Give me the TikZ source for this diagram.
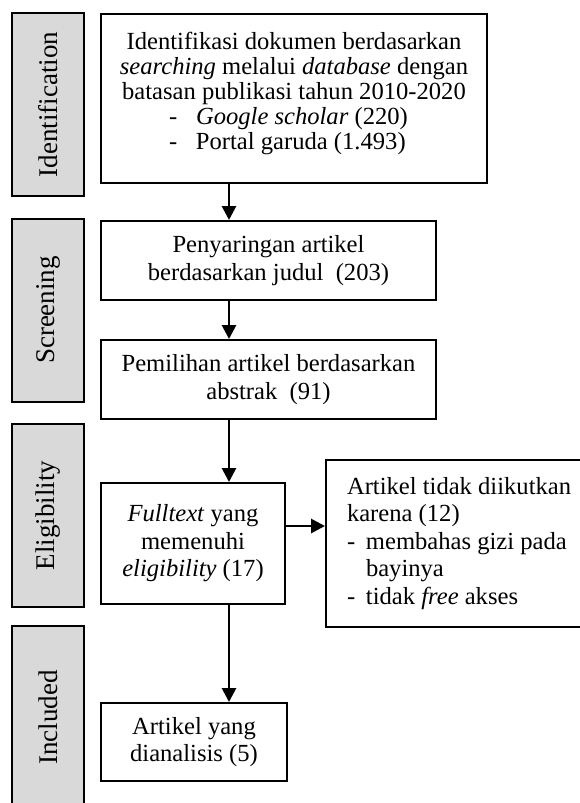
\documentclass[tikz,border=0pt]{standalone}
\usepackage{fontspec}
\setmainfont{Liberation Serif}
\usetikzlibrary{arrows.meta}
\usetikzlibrary{positioning}

\begin{document}
\begin{tikzpicture}[x=1pt, y=-1pt, font=\fontsize{24.6}{27.5}\selectfont]
  \tikzstyle{phase}=[rectangle, rotate=90, fill=black!15, draw=black, line width=2pt, minimum width=183pt, minimum height=72pt, font=\fontsize{27}{30}\selectfont]
  \tikzstyle{box}=[rectangle, draw=black, line width=2pt, anchor=north west, align=center, inner sep=0pt]
  \tikzstyle{flow}=[-{Triangle[width=14pt, length=14pt]}, line width=2.8pt]
  \useasboundingbox (0,0) rectangle (580,803);

  \node (phaseid) [phase] at (48,104.5) {Identification};
  \node (phasescr) [phase] at (48,310) {Screening};
  \node (phaseelig) [phase] at (48,515.5) {Eligibility};
  \node (phaseinc) [phase] at (48,717.5) {Included};

  \node (ident) [box, minimum width=386pt, minimum height=169pt, font=\fontsize{24.6}{25}\selectfont] at (100,13) {Identifikasi dokumen berdasarkan\\ \textit{searching} melalui \textit{database} dengan\\ batasan publikasi tahun 2010-2020\\ \makebox[250pt][l]{\makebox[27pt][l]{-}\textit{Google scholar} (220)}\\ \makebox[250pt][l]{\makebox[27pt][l]{-}Portal garuda (1.493)}\rule[-16pt]{0pt}{16pt}};
  \node (screen) [box, below=36pt of ident.south west, anchor=north west, minimum width=335pt, minimum height=79pt] {Penyaringan artikel\\ berdasarkan judul\ \ (203)};
  \node (abstract) [box, below=38pt of screen.south west, anchor=north west, minimum width=335pt, minimum height=79pt] {Pemilihan artikel berdasarkan\\ abstrak\ \ (91)};
  \node (fulltext) [box, below=62pt of abstract.south west, anchor=north west, minimum width=184pt, minimum height=121pt] {\textit{Fulltext} yang\\ memenuhi\\ \textit{eligibility} (17)};
  \node (excluded) [box, right=39pt of fulltext.north east, anchor=north west, yshift=23pt, align=flush left, text width=235pt, inner xsep=21pt, minimum height=167pt] {Artikel tidak diikutkan\\ karena (12)\\ \makebox[19pt][l]{-}membahas gizi pada\\ \hspace*{19pt}bayinya\\ \makebox[19pt][l]{-}tidak \textit{free} akses};
  \node (included) [box, below=97pt of fulltext.south west, anchor=north west, minimum width=186pt, minimum height=78pt] {Artikel yang\\ dianalisis (5)};

  \coordinate (spine) at (229,0);

  \draw[flow] (ident.south -| spine) -- (screen.north -| spine);
  \draw[flow] (screen.south -| spine) -- (abstract.north -| spine);
  \draw[flow] (abstract.south -| spine) -- (fulltext.north -| spine);
  \draw[flow] ([yshift=17.5pt]fulltext.east) -- ([yshift=17.5pt]fulltext.east -| excluded.west);
  \draw[flow] (fulltext.south -| spine) -- (included.north -| spine);
\end{tikzpicture}
\end{document}
